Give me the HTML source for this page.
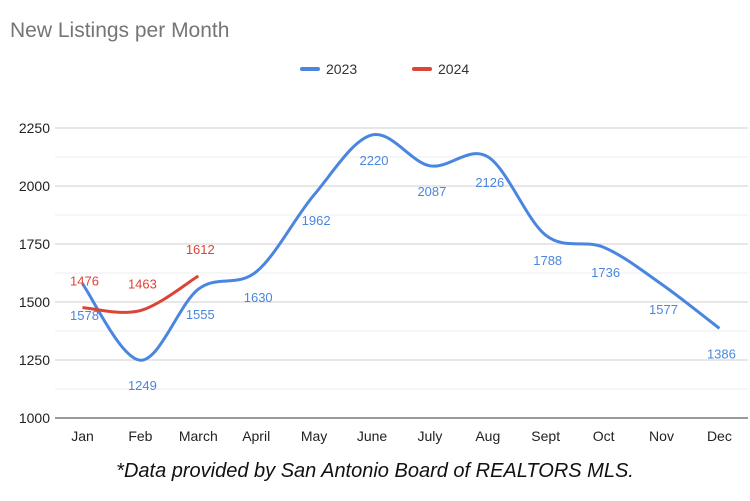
<!DOCTYPE html>
<html><head><meta charset="utf-8"><style>
body{margin:0;background:#fff;}
svg{display:block;font-family:"Liberation Sans",Arial,sans-serif;}
</style></head><body>
<svg id="chart" width="750" height="501" viewBox="0 0 750 501">
<text x="10" y="37" font-size="21" fill="#757575">New Listings per Month</text>
<g>
<g><line x1="302" y1="69" x2="318" y2="69" stroke="#4a86e0" stroke-width="4" stroke-linecap="round"/><text x="326" y="74" font-size="14" fill="#333">2023</text></g>
<g><line x1="414" y1="69" x2="430" y2="69" stroke="#db4437" stroke-width="4" stroke-linecap="round"/><text x="438" y="74" font-size="14" fill="#333">2024</text></g>
</g>
<g id="grid"></g>
<g id="yaxis"></g>
<g id="xaxis"></g>
<g id="series"></g>
<text x="375" y="477" font-size="20" font-style="italic" text-anchor="middle" fill="#111">*Data provided by San Antonio Board of REALTORS MLS.</text>
</svg>
<script>
const categories=["Jan","Feb","March","April","May","June","July","Aug","Sept","Oct","Nov","Dec"];
const values2023=[1578,1249,1555,1630,1962,2220,2087,2126,1788,1736,1577,1386];
const values2024=[1476,1463,1612];
const yTicks=[1000,1250,1500,1750,2000,2250];
const NS="http://www.w3.org/2000/svg";
const x0=82.5,dx=57.9,yBase=418,yMin=1000,pxPer=58/250;
function xs(i){return x0+i*dx;}
function ys(v){return yBase-(v-yMin)*pxPer;}
function mk(tag,attrs,parent){const e=document.createElementNS(NS,tag);for(const k in attrs)e.setAttribute(k,attrs[k]);parent.appendChild(e);return e;}
const grid=document.getElementById('grid'),yax=document.getElementById('yaxis'),xax=document.getElementById('xaxis'),ser=document.getElementById('series');
for(let k=0;k<yTicks.length;k++){
  const v=yTicks[k];
  const l=mk('line',{x1:55,x2:748,y1:ys(v),y2:ys(v),stroke:k==0?'#333':'#cfcfcf','stroke-width':1},grid);
  
  
  if(k<yTicks.length-1){
    const m=mk('line',{x1:55,x2:748,y1:ys(v+125),y2:ys(v+125),stroke:'#ececec','stroke-width':1},grid);
    
    
  }
  const t=mk('text',{x:50,y:ys(v)+5,'font-size':14,'text-anchor':'end',fill:'#222'},yax);
  t.textContent=v;
  
  
}
categories.forEach((c,i)=>{
  const t=mk('text',{x:xs(i),y:441,'font-size':14,'text-anchor':'middle',fill:'#222'},xax);
  t.textContent=c;
  
  
});
function path(vals){
  const p=vals.map((v,i)=>[xs(i),ys(v)]);
  let d='M'+p[0][0]+','+p[0][1];
  const t=0.5;
  for(let i=0;i<p.length-1;i++){
    const a=p[i-1]||p[i],b=p[i],c=p[i+1],e=p[i+2]||c;
    const c1=[b[0]+(c[0]-a[0])*t/3,b[1]+(c[1]-a[1])*t/3];
    const c2=[c[0]-(e[0]-b[0])*t/3,c[1]-(e[1]-b[1])*t/3];
    d+=' C'+c1+' '+c2+' '+c;
  }
  return d;
}
function series(vals,color,name,off){
  const pa=mk('path',{d:path(vals),fill:'none',stroke:color,'stroke-width':3},ser);
  
  
  vals.forEach((v,i)=>{
    let o=off;
    if(name==='series-2023'&&i===0)o=36;
    const t=mk('text',{x:xs(i)+2,y:ys(v)+o,'font-size':13,'text-anchor':'middle',fill:color},ser);
    t.textContent=v;
    
    
  });
}
series(values2023,'#4a86e0','series-2023',30);
series(values2024,'#db4437','series-2024',-22);
</script>
</body></html>
